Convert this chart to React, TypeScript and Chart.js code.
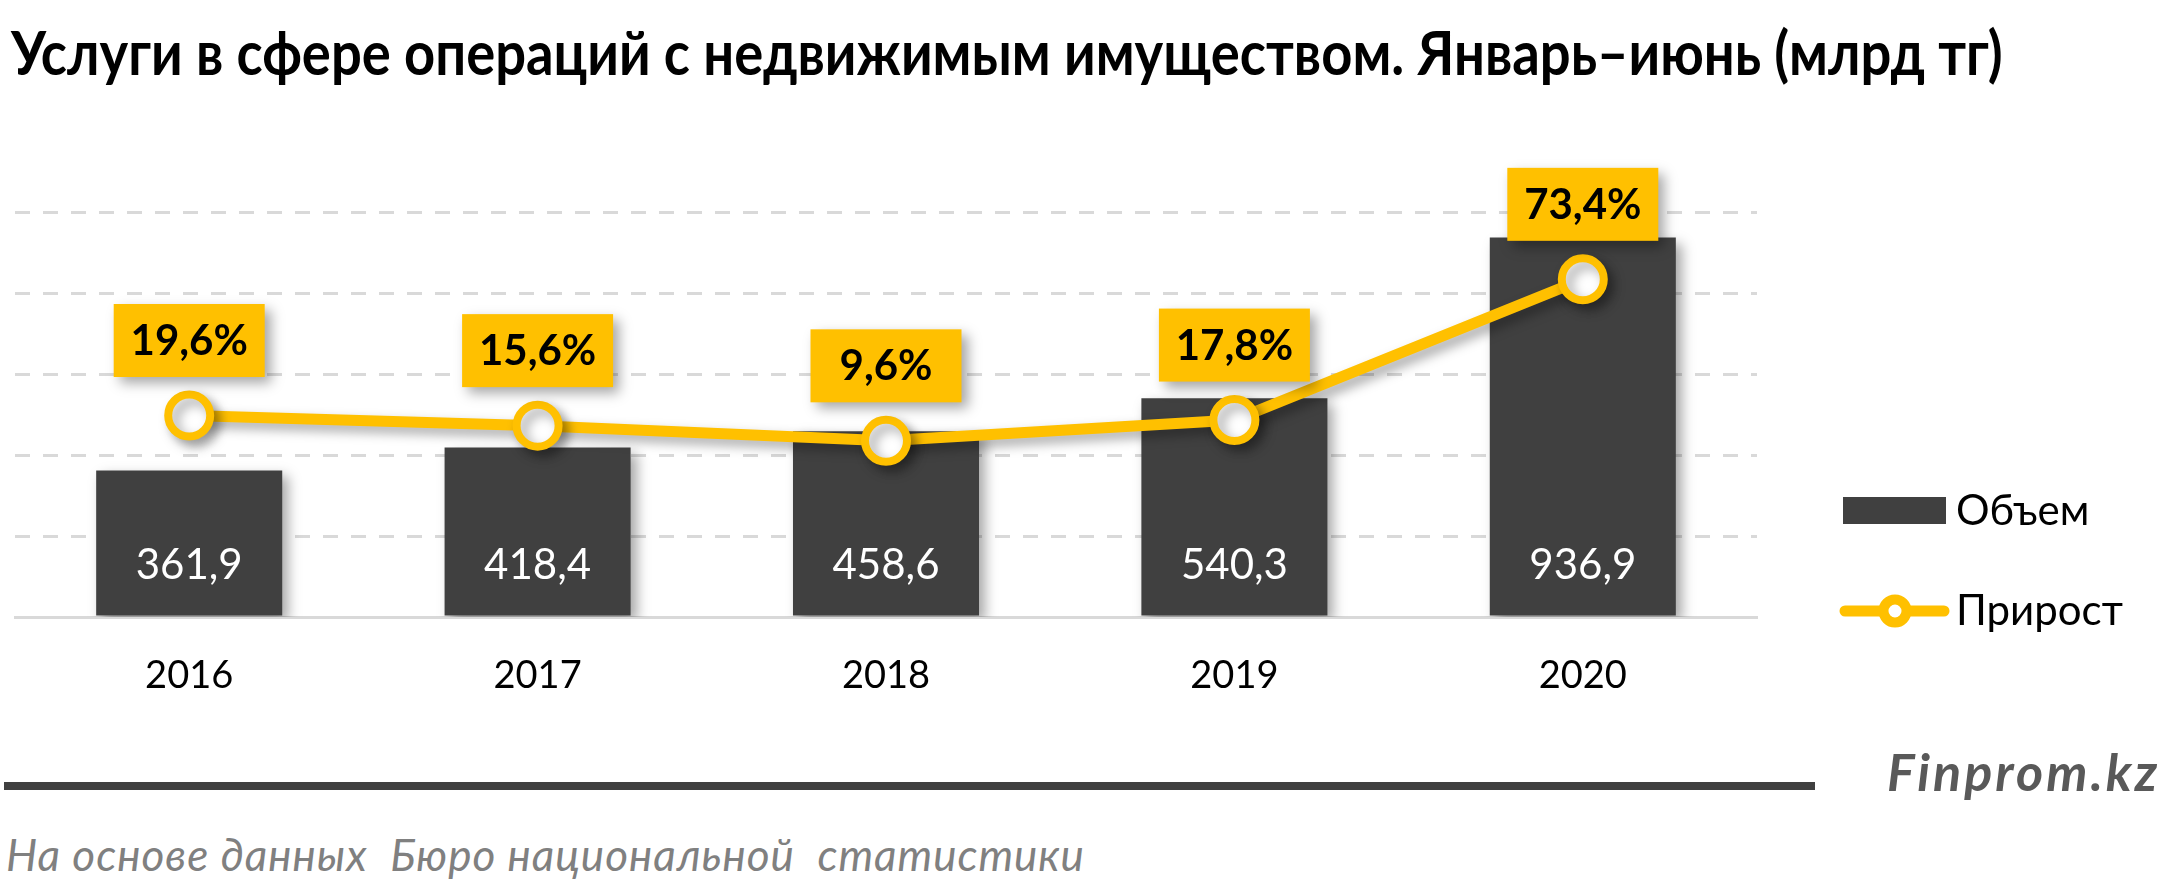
import { useEffect, useRef } from "react";
import { Chart, registerables } from "chart.js";

Chart.register(...registerables);

//  Data

const YEARS = ["2016", "2017", "2018", "2019", "2020"];
const VOLUME = [361.9, 418.4, 458.6, 540.3, 936.9];
const GROWTH = [19.6, 15.6, 9.6, 17.8, 73.4];
const VOLUME_LABEL = "Объем";
const GROWTH_LABEL = "Прирост";

const TITLE =
  "Услуги в сфере операций с недвижимым имуществом. Январь–июнь (млрд тг)";
const SOURCE = "На основе данных  Бюро национальной  статистики";
const BRAND = "Finprom.kz";

//  Style

const FONT = "Lato, 'Open Sans', sans-serif";
const BAR = "#404040";
const GOLD = "#FFC000";
const GRID = "#D9D9D9";

const fmt = (v: number) => v.toFixed(1).replace(".", ",");

//  Plugins

const shadowPlugin = {
  id: "shadow",
  beforeDatasetDraw(chart: any) {
    const { ctx } = chart;
    ctx.save();
    ctx.shadowColor = "rgba(0,0,0,0.35)";
    ctx.shadowBlur = 12;
    ctx.shadowOffsetX = 6;
    ctx.shadowOffsetY = 6;
  },
  afterDatasetDraw(chart: any) {
    chart.ctx.restore();
  },
};

const labelsPlugin = {
  id: "labels",
  afterDatasetsDraw(chart: any) {
    const { ctx } = chart;
    const base = chart.scales.y.getPixelForValue(0);

    // values inside the bars
    const bars = chart.getDatasetMeta(0).data;
    ctx.save();
    ctx.fillStyle = "#ffffff";
    ctx.font = `400 42px ${FONT}`;
    ctx.textAlign = "center";
    ctx.textBaseline = "middle";
    bars.forEach((b: any, i: number) => {
      ctx.fillText(fmt(VOLUME[i]), b.x, base - 52);
    });
    ctx.restore();

    // growth boxes above the points
    const pts = chart.getDatasetMeta(1).data;
    pts.forEach((p: any, i: number) => {
      const w = 151;
      const h = 73;
      const cy = p.y - 75;
      ctx.save();
      ctx.shadowColor = "rgba(0,0,0,0.35)";
      ctx.shadowBlur = 12;
      ctx.shadowOffsetX = 6;
      ctx.shadowOffsetY = 6;
      ctx.fillStyle = GOLD;
      ctx.fillRect(p.x - w / 2, cy - h / 2, w, h);
      ctx.restore();
      ctx.save();
      ctx.fillStyle = "#000000";
      ctx.font = `700 42px ${FONT}`;
      ctx.textAlign = "center";
      ctx.textBaseline = "middle";
      ctx.fillText(fmt(GROWTH[i]) + "%", p.x, cy + 1);
      ctx.restore();
    });
  },
};

const legendPlugin = {
  id: "sideLegend",
  afterDraw(chart: any) {
    const { ctx } = chart;
    ctx.save();
    ctx.font = `400 42px ${FONT}`;
    ctx.textBaseline = "middle";

    ctx.fillStyle = BAR;
    ctx.fillRect(1843, 497, 103, 27);
    ctx.fillStyle = "#000000";
    ctx.fillText(chart.data.datasets[0].label, 1956, 511);

    ctx.strokeStyle = GOLD;
    ctx.lineWidth = 11;
    ctx.lineCap = "round";
    ctx.beginPath();
    ctx.moveTo(1845, 611);
    ctx.lineTo(1944, 611);
    ctx.stroke();
    ctx.beginPath();
    ctx.arc(1895, 611, 11.5, 0, Math.PI * 2);
    ctx.fillStyle = "#ffffff";
    ctx.fill();
    ctx.lineWidth = 10;
    ctx.stroke();
    ctx.fillStyle = "#000000";
    ctx.fillText(chart.data.datasets[1].label, 1956, 611);
    ctx.restore();
  },
};

//  Component

export default function App() {
  const canvasRef = useRef<HTMLCanvasElement>(null);

  useEffect(() => {
    if (!canvasRef.current) return;
    const chart = new Chart(canvasRef.current, {
      type: "bar",
      data: {
        labels: YEARS,
        datasets: [
          {
            type: "bar",
            label: VOLUME_LABEL,
            data: VOLUME,
            backgroundColor: BAR,
            barPercentage: 0.534,
            categoryPercentage: 1,
            yAxisID: "y",
            order: 2,
          },
          {
            type: "line",
            label: GROWTH_LABEL,
            data: GROWTH,
            borderColor: GOLD,
            borderWidth: 11,
            pointRadius: 21,
            pointBorderWidth: 8,
            pointBackgroundColor: "#ffffff",
            pointBorderColor: GOLD,
            tension: 0,
            yAxisID: "y2",
            order: 1,
            clip: false,
          } as any,
        ],
      },
      options: {
        responsive: true,
        maintainAspectRatio: false,
        animation: false,
        layout: {
          autoPadding: false,
          padding: { left: 15, right: 403, top: 212, bottom: 0 },
        },
        plugins: {
          legend: { display: false },
          tooltip: { enabled: false },
        },
        scales: {
          x: {
            grid: { display: false },
            border: { display: true, color: GRID, width: 3 },
            ticks: {
              color: "#000000",
              font: { family: FONT, size: 38 },
              padding: 28,
            },
            afterFit: (s: any) => {
              s.height = 83;
            },
          },
          y: {
            min: 0,
            max: 1000,
            ticks: { display: false, stepSize: 200 },
            border: { display: false, dash: [15, 13] },
            grid: {
              drawTicks: false,
              lineWidth: 3,
              color: (c: any) =>
                c.tick && c.tick.value === 0 ? "rgba(0,0,0,0)" : GRID,
            },
            afterFit: (s: any) => {
              s.width = 0;
            },
          },
          y2: {
            position: "right",
            min: -60,
            max: 100,
            display: false,
          },
        },
      },
      plugins: [shadowPlugin, labelsPlugin, legendPlugin],
    });
    return () => chart.destroy();
  }, []);

  return (
    <div
      style={{
        position: "absolute",
        left: 0,
        top: 0,
        width: 2160,
        height: 881,
        background: "#ffffff",
        overflow: "hidden",
        fontFamily: FONT,
      }}
    >
      <div
        style={{
          position: "absolute",
          left: 11,
          top: 21,
          fontSize: 61,
          lineHeight: "61px",
          fontWeight: 700,
          color: "#000000",
          whiteSpace: "nowrap",
          transform: "scaleX(0.891)",
          transformOrigin: "left center",
        }}
      >
        {TITLE}
      </div>
      <div
        style={{ position: "absolute", left: 0, top: 0, width: 2160, height: 700 }}
      >
        <canvas ref={canvasRef} />
      </div>
      <div
        style={{
          position: "absolute",
          left: 4,
          top: 782,
          width: 1811,
          height: 8,
          background: "#404040",
        }}
      />
      <div
        style={{
          position: "absolute",
          left: 1887,
          top: 745,
          fontSize: 52,
          lineHeight: "52px",
          fontWeight: 700,
          fontStyle: "italic",
          letterSpacing: 3,
          color: "#595959",
          whiteSpace: "nowrap",
        }}
      >
        {BRAND}
      </div>
      <div
        style={{
          position: "absolute",
          left: 6,
          top: 832,
          fontSize: 44,
          lineHeight: "44px",
          fontStyle: "italic",
          letterSpacing: 1,
          color: "#808080",
          whiteSpace: "pre",
        }}
      >
        {SOURCE}
      </div>
    </div>
  );
}
